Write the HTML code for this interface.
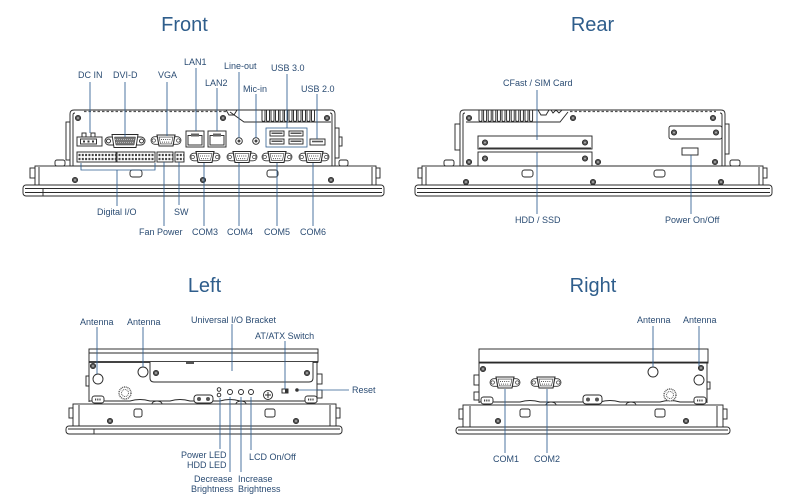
<!DOCTYPE html>
<html><head><meta charset="utf-8"><style>
html,body{margin:0;padding:0;background:#fff;}
svg{display:block;}
.t{font-family:"Liberation Sans",Arial,sans-serif;font-size:9px;fill:#2b4c73;}
.h{font-family:"Liberation Sans",Arial,sans-serif;font-size:20px;fill:#2f5e8c;}
.b{stroke:#2f5f90;stroke-width:0.85;fill:none;}
.d{stroke:#2a2a2a;stroke-width:0.95;fill:#fff;}
.n{stroke:#2a2a2a;stroke-width:0.95;fill:none;}
</style></head><body>
<svg width="785" height="502" viewBox="0 0 785 502" xmlns="http://www.w3.org/2000/svg">
<defs>
 <g id="scr"><circle r="2.7" fill="#555" stroke="#222" stroke-width="0.7"/><circle r="1" fill="#aaa"/></g>
 <g id="dsub">
  <rect x="-15" y="-3.8" width="30" height="7.6" rx="3.8" fill="#fff" stroke="#333" stroke-width="0.8"/>
  <circle cx="-12.3" cy="0" r="1.7" fill="#fff" stroke="#333" stroke-width="0.7"/>
  <circle cx="12.3" cy="0" r="1.7" fill="#fff" stroke="#333" stroke-width="0.7"/>
  <path d="M-9,-5.5 H9 L7,5.5 H-7 Z" fill="#fff" stroke="#2a2a2a" stroke-width="1.1"/>
  <path d="M-7,-3.4 H7 L5.4,3.4 H-5.4 Z" fill="#fff" stroke="#333" stroke-width="0.6"/>
  <line x1="-5" y1="-1" x2="5.5" y2="-1" stroke="#444" stroke-width="1" stroke-dasharray="0.9,1.2"/>
  <line x1="-4" y1="1.6" x2="4.5" y2="1.6" stroke="#444" stroke-width="1" stroke-dasharray="0.9,1.2"/>
 </g>
 <g id="gear"><circle r="6" fill="#fff" stroke="#555" stroke-width="1.4" stroke-dasharray="1,0.8"/><circle r="3.5" fill="none" stroke="#666" stroke-width="1" stroke-dasharray="1,0.8"/></g>
 <g id="tb"><line x1="1.5" y1="3" x2="200" y2="3" stroke="#444" stroke-width="2.2" stroke-dasharray="2,1.3"/><line x1="1.5" y1="7" x2="200" y2="7" stroke="#444" stroke-width="2.2" stroke-dasharray="2,1.3"/></g>
 <clipPath id="c1"><rect x="77" y="152" width="39" height="10"/></clipPath>
 <clipPath id="c2"><rect x="117" y="152" width="38" height="10"/></clipPath>
 <clipPath id="c3"><rect x="157" y="152" width="16" height="10"/></clipPath>
 <clipPath id="c4"><rect x="175" y="152" width="9" height="10"/></clipPath>
</defs>

<!-- ================= FRONT ================= -->
<text class="h" x="184.5" y="31" text-anchor="middle">Front</text>
<rect x="35" y="166" width="341" height="19" class="d"/>
<line x1="39" y1="167" x2="39" y2="185" class="n"/>
<line x1="372" y1="167" x2="372" y2="185" class="n"/>
<rect x="30" y="168" width="5" height="10" class="d"/>
<rect x="376" y="168" width="4" height="10" class="d"/>
<rect x="23" y="185" width="361" height="11" rx="3" class="d"/>
<line x1="25" y1="188.5" x2="382" y2="188.5" class="n"/>
<line x1="25" y1="192.5" x2="382" y2="192.5" class="n" stroke-width="0.6"/>
<line x1="43" y1="189" x2="43" y2="196" class="n" stroke-width="0.5"/>
<use href="#scr" x="75" y="180"/><use href="#scr" x="203" y="180"/><use href="#scr" x="331" y="180"/>
<rect x="130" y="170" width="12" height="7" rx="2.5" class="d"/>
<rect x="267" y="170" width="11" height="7" rx="2.5" class="d"/>
<rect x="55" y="160" width="10" height="6" rx="2" class="d"/>
<rect x="339" y="160" width="9" height="6" rx="2" class="d"/>
<rect x="66" y="122" width="4" height="38" class="d"/>
<rect x="335" y="128" width="4" height="30" class="d"/>
<rect x="339" y="137" width="3" height="9" class="d"/>
<path d="M70,166 V114 Q70,110 74,110 H331 Q335,110 335,114 V166 Z" class="d" stroke-width="1.3"/>
<path d="M73,166 V115 Q73,113 75,113" class="n" stroke-width="0.7"/>
<path d="M332,166 V115 Q332,113 330,113" class="n" stroke-width="0.7"/>
<line x1="84" y1="111.5" x2="226" y2="111.5" stroke="#555" stroke-width="1.3" stroke-dasharray="2.5,2"/>
<path d="M226,110 L229,115 H234 L237,110" class="n"/>
<path d="M230,112 L244,122 H331" class="n"/>
<path class="n" d="M262,110 V120 a1.5,1.5 0 0 0 3,0 V110 M266.5,110 V120 a1.5,1.5 0 0 0 3,0 V110 M271,110 V120 a1.5,1.5 0 0 0 3,0 V110 M275.5,110 V120 a1.5,1.5 0 0 0 3,0 V110 M280,110 V120 a1.5,1.5 0 0 0 3,0 V110 M284.5,110 V120 a1.5,1.5 0 0 0 3,0 V110 M289,110 V120 a1.5,1.5 0 0 0 3,0 V110 M293.5,110 V120 a1.5,1.5 0 0 0 3,0 V110 M298,110 V120 a1.5,1.5 0 0 0 3,0 V110 M302.5,110 V120 a1.5,1.5 0 0 0 3,0 V110 M307,110 V120 a1.5,1.5 0 0 0 3,0 V110 M311.5,110 V120 a1.5,1.5 0 0 0 3,0 V110"/>
<use href="#scr" x="78" y="118"/><use href="#scr" x="223" y="118"/><use href="#scr" x="327" y="118"/>
<rect x="82" y="133" width="4" height="4" class="d"/><rect x="91" y="133" width="4" height="4" class="d"/>
<rect x="77" y="137" width="25" height="9" class="d" stroke-width="1.1"/>
<rect x="80.5" y="139" width="16" height="5" class="d"/>
<rect x="83" y="140.5" width="2" height="2" fill="#333"/><rect x="87.5" y="140.5" width="2" height="2" fill="#333"/><rect x="92" y="140.5" width="2" height="2" fill="#333"/>
<rect x="105" y="137" width="40" height="8" rx="4" class="d"/>
<circle cx="108.5" cy="141" r="2" class="d"/><circle cx="141.5" cy="141" r="2" class="d"/>
<path d="M112,134.5 H138 L136,147.5 H114 Z" class="d" stroke-width="1.2"/>
<path d="M114.5,137 H135.5 L134,145 H116 Z" fill="#777" stroke="#333" stroke-width="0.5"/>
<line x1="115" y1="139.5" x2="135" y2="139.5" stroke="#fff" stroke-width="0.6" stroke-dasharray="1,1"/>
<line x1="116" y1="142.5" x2="134" y2="142.5" stroke="#fff" stroke-width="0.6" stroke-dasharray="1,1"/>
<use href="#dsub" x="166" y="140.5"/>
<rect x="186" y="131" width="18" height="16" class="d" stroke-width="1.2"/>
<rect x="188" y="135.5" width="14" height="9.5" class="d"/>
<rect x="191" y="133.5" width="8" height="3" fill="#666"/>
<rect x="208" y="131" width="18" height="16" class="d" stroke-width="1.2"/>
<rect x="210" y="135.5" width="14" height="9.5" class="d"/>
<rect x="213" y="133.5" width="8" height="3" fill="#666"/>
<circle cx="239" cy="141" r="3.3" class="d" stroke-width="1.2"/><circle cx="239" cy="141" r="1.5" fill="#444"/>
<circle cx="256" cy="141" r="3.3" class="d" stroke-width="1.2"/><circle cx="256" cy="141" r="1.5" fill="#444"/>
<rect x="266" y="128" width="41" height="19" fill="#fff" stroke="#2f5f90" stroke-width="0.8"/>
<rect x="270" y="131" width="14" height="5" class="d" stroke-width="1.1"/><rect x="271.5" y="132.5" width="11" height="1.5" fill="#555"/>
<rect x="289" y="131" width="14" height="5" class="d" stroke-width="1.1"/><rect x="290.5" y="132.5" width="11" height="1.5" fill="#555"/>
<rect x="270" y="139" width="14" height="5" class="d" stroke-width="1.1"/><rect x="271.5" y="140.5" width="11" height="1.5" fill="#555"/>
<rect x="289" y="139" width="14" height="5" class="d" stroke-width="1.1"/><rect x="290.5" y="140.5" width="11" height="1.5" fill="#555"/>
<rect x="310" y="139" width="15" height="6" class="d" stroke-width="1.1"/><rect x="312" y="140.7" width="11" height="1.6" fill="#555"/>
<rect x="77" y="152" width="39" height="10" class="d"/><g clip-path="url(#c1)"><use href="#tb" x="77" y="152"/></g>
<rect x="117" y="152" width="38" height="10" class="d"/><g clip-path="url(#c2)"><use href="#tb" x="117" y="152"/></g>
<rect x="157" y="152" width="16" height="10" class="d"/><g clip-path="url(#c3)"><use href="#tb" x="157" y="152"/></g>
<rect x="175" y="152" width="9" height="10" class="d"/><g clip-path="url(#c4)"><use href="#tb" x="175" y="152"/></g>
<use href="#dsub" x="205" y="157"/><use href="#dsub" x="242" y="157"/><use href="#dsub" x="277" y="157"/><use href="#dsub" x="314" y="157"/>
<path class="b" d="M90,82 V133 M125,82 V137 M167,82 V136 M196,68 V131 M217,88 V131 M239,72 V138 M256,94 V138 M287,74 V128 M317,94 V139"/>
<path class="b" d="M81,163 V170 H155 V163 M117,170 V206 M164,162 V226 M179,162 V205 M204,163 V226 M239,163 V226 M277,163 V226 M313,163 V226"/>
<text class="t" x="78" y="78">DC IN</text>
<text class="t" x="113" y="78">DVI-D</text>
<text class="t" x="158" y="78">VGA</text>
<text class="t" x="184" y="65">LAN1</text>
<text class="t" x="224" y="69">Line-out</text>
<text class="t" x="271" y="71">USB 3.0</text>
<text class="t" x="205" y="86">LAN2</text>
<text class="t" x="243" y="92">Mic-in</text>
<text class="t" x="301" y="92">USB 2.0</text>
<text class="t" x="97" y="215">Digital I/O</text>
<text class="t" x="174" y="215">SW</text>
<text class="t" x="139" y="235">Fan Power</text>
<text class="t" x="192" y="235">COM3</text>
<text class="t" x="227" y="235">COM4</text>
<text class="t" x="264" y="235">COM5</text>
<text class="t" x="300" y="235">COM6</text>

<!-- ================= REAR ================= -->
<text class="h" x="592.5" y="31" text-anchor="middle">Rear</text>
<rect x="422" y="166" width="341" height="19" class="d"/>
<line x1="426" y1="167" x2="426" y2="185" class="n"/>
<line x1="759" y1="167" x2="759" y2="185" class="n"/>
<rect x="418" y="168" width="4" height="10" class="d"/>
<rect x="763" y="168" width="4" height="10" class="d"/>
<rect x="415" y="185" width="357" height="11" rx="3" class="d"/>
<line x1="417" y1="188.5" x2="770" y2="188.5" class="n"/>
<line x1="417" y1="192.5" x2="770" y2="192.5" class="n" stroke-width="0.6"/>
<use href="#scr" x="466" y="182"/><use href="#scr" x="593" y="182"/><use href="#scr" x="721" y="182"/>
<rect x="522" y="170" width="11" height="7" rx="2.5" class="d"/>
<rect x="654" y="170" width="11" height="7" rx="2.5" class="d"/>
<rect x="444" y="160" width="10" height="6" rx="2" class="d"/>
<rect x="730" y="160" width="10" height="6" rx="2" class="d"/>
<rect x="455" y="124" width="5" height="26" class="d"/>
<rect x="725" y="124" width="4" height="30" class="d"/>
<path d="M460,166 V114 Q460,110 464,110 H721 Q725,110 725,114 V166 Z" class="d" stroke-width="1.3"/>
<path d="M463,166 V115 Q463,113 465,113" class="n" stroke-width="0.7"/>
<path d="M722,166 V115 Q722,113 720,113" class="n" stroke-width="0.7"/>
<path class="n" d="M479,110 V120 a1.5,1.5 0 0 0 3,0 V110 M483.6,110 V120 a1.5,1.5 0 0 0 3,0 V110 M488.2,110 V120 a1.5,1.5 0 0 0 3,0 V110 M492.8,110 V120 a1.5,1.5 0 0 0 3,0 V110 M497.4,110 V120 a1.5,1.5 0 0 0 3,0 V110 M502,110 V120 a1.5,1.5 0 0 0 3,0 V110 M506.6,110 V120 a1.5,1.5 0 0 0 3,0 V110 M511.2,110 V120 a1.5,1.5 0 0 0 3,0 V110 M515.8,110 V120 a1.5,1.5 0 0 0 3,0 V110 M520.4,110 V120 a1.5,1.5 0 0 0 3,0 V110 M525,110 V120 a1.5,1.5 0 0 0 3,0 V110 M529.6,110 V120 a1.5,1.5 0 0 0 3,0 V110"/>
<path d="M466,122 H560 L568,112" class="n"/>
<path d="M538,110 L541,115 H546 L549,110 M551,110 L553,113 L556,110 L559,113 L562,110" class="n"/>
<line x1="570" y1="111.5" x2="716" y2="111.5" stroke="#555" stroke-width="1.3" stroke-dasharray="2.5,2"/>
<rect x="478" y="136" width="114" height="13" class="d" stroke-width="1.8"/>
<line x1="479" y1="148" x2="591" y2="148" stroke="#333" stroke-width="1"/>
<rect x="478" y="152" width="114" height="14" class="d" stroke-width="1.8"/>
<use href="#scr" x="485" y="142.5"/><use href="#scr" x="585" y="142.5"/>
<use href="#scr" x="485" y="158.5"/><use href="#scr" x="585" y="158.5"/>
<use href="#scr" x="469" y="118"/><use href="#scr" x="573" y="118"/><use href="#scr" x="713" y="118"/>
<use href="#scr" x="469" y="162"/><use href="#scr" x="598" y="162"/><use href="#scr" x="715" y="162"/>
<rect x="669" y="126" width="53" height="13" rx="2" class="d" stroke-width="1.7"/>
<use href="#scr" x="674" y="132.5"/><use href="#scr" x="716" y="132.5"/>
<rect x="682" y="148" width="16" height="7" class="d" stroke-width="1.3"/>
<path class="b" d="M537,90 V140 M537,152 V214 M691,155 V214"/>
<text class="t" x="503" y="86">CFast / SIM Card</text>
<text class="t" x="515" y="223">HDD / SSD</text>
<text class="t" x="665" y="223">Power On/Off</text>

<!-- ================= LEFT ================= -->
<text class="h" x="204.5" y="292" text-anchor="middle">Left</text>
<rect x="73" y="404" width="263" height="22" class="d"/>
<line x1="79" y1="405" x2="79" y2="426" class="n"/>
<line x1="330" y1="405" x2="330" y2="426" class="n"/>
<rect x="69" y="408" width="4" height="10" class="d"/>
<rect x="336" y="408" width="4" height="10" class="d"/>
<rect x="66" y="426" width="276" height="8" rx="3" class="d"/>
<line x1="68" y1="429" x2="340" y2="429" class="n" stroke-width="0.6"/>
<line x1="94" y1="429" x2="94" y2="434" class="n" stroke-width="0.5"/>
<use href="#scr" x="110" y="421"/><use href="#scr" x="296" y="421"/>
<rect x="134" y="409" width="8" height="8" rx="2" class="d"/>
<rect x="265" y="409" width="10" height="8" rx="2" class="d"/>
<rect x="89" y="349" width="229" height="13" class="d"/>
<line x1="89" y1="353" x2="318" y2="353" class="n" stroke-width="0.6"/>
<line x1="89" y1="362" x2="318" y2="362" stroke="#2a2a2a" stroke-width="1.8"/>
<path d="M89,362 V402 M317,362 V402" class="n"/>
<path d="M89,401 H130 Q140,398 150,401 H170 Q180,398 190,401 H220 Q230,398 240,401 H317" class="n"/>
<rect x="86" y="376" width="3" height="10" class="d"/>
<rect x="317" y="374" width="5" height="10" class="d"/><rect x="317" y="390" width="5" height="8" class="d"/>
<rect x="92" y="396" width="12" height="7" rx="2.5" class="d"/><line x1="95" y1="399.5" x2="101" y2="399.5" stroke="#444" stroke-width="2" stroke-dasharray="1,0.8"/>
<rect x="194" y="395" width="19" height="8" rx="3" class="d"/><circle cx="199" cy="399" r="2" fill="#555"/><circle cx="208" cy="399" r="2" fill="#555"/>
<rect x="305" y="396" width="12" height="7" rx="2.5" class="d"/><line x1="308" y1="399.5" x2="314" y2="399.5" stroke="#444" stroke-width="2" stroke-dasharray="1,0.8"/>
<path d="M152,404 a5,3 0 0 1 10,0" class="n"/><path d="M236,404 a5,3 0 0 1 10,0" class="n"/>
<path d="M150,362 V378 Q150,382 154,382 H309 Q313,382 313,378 V362" class="d" stroke-width="1.4"/>
<rect x="186" y="362" width="8" height="2" fill="#555"/>
<use href="#scr" x="156" y="373"/><use href="#scr" x="307" y="373"/>
<use href="#scr" x="93" y="366"/>
<circle cx="98" cy="379" r="5" class="d" stroke-width="1.1"/>
<circle cx="143" cy="372" r="5" class="d" stroke-width="1.1"/>
<use href="#gear" x="125" y="393"/>
<circle cx="219" cy="389.5" r="1.8" class="d"/><circle cx="219" cy="395" r="1.8" class="d"/>
<circle cx="230" cy="392" r="2.5" class="d" stroke-width="1.1"/><circle cx="241" cy="392" r="2.5" class="d" stroke-width="1.1"/><circle cx="251" cy="392" r="2.5" class="d" stroke-width="1.1"/>
<circle cx="268" cy="395" r="4.5" class="d" stroke-width="1.3"/><path d="M265,395 H271 M268,392 V398" class="n"/>
<rect x="282" y="389" width="6" height="4" class="d"/><rect x="285" y="389.5" width="2.5" height="3" fill="#333"/>
<circle cx="297" cy="390" r="1.8" fill="#333"/>
<path class="b" d="M97,327 V374 M143,327 V367 M232,324 V371 M285,341 V389 M299,390 H349 M220,398 V449 M230,397 V472 M241,397 V472 M251,397 V450"/>
<text class="t" x="80" y="325">Antenna</text>
<text class="t" x="127" y="325">Antenna</text>
<text class="t" x="191" y="323">Universal I/O Bracket</text>
<text class="t" x="255" y="339">AT/ATX Switch</text>
<text class="t" x="352" y="393">Reset</text>
<text class="t" x="181" y="458">Power LED</text>
<text class="t" x="187" y="468">HDD LED</text>
<text class="t" x="249" y="460">LCD On/Off</text>
<text class="t" x="194" y="482">Decrease</text>
<text class="t" x="191" y="492">Brightness</text>
<text class="t" x="238" y="482">Increase</text>
<text class="t" x="238" y="492">Brightness</text>

<!-- ================= RIGHT ================= -->
<text class="h" x="593" y="292" text-anchor="middle">Right</text>
<rect x="463" y="405" width="260" height="22" class="d"/>
<line x1="470" y1="406" x2="470" y2="427" class="n"/>
<line x1="717" y1="406" x2="717" y2="427" class="n"/>
<rect x="459" y="409" width="4" height="10" class="d"/>
<rect x="723" y="409" width="4" height="10" class="d"/>
<rect x="456" y="427" width="274" height="7" rx="3" class="d"/>
<line x1="458" y1="430" x2="728" y2="430" class="n" stroke-width="0.6"/>
<use href="#scr" x="498" y="421"/><use href="#scr" x="686" y="421"/>
<rect x="520" y="409" width="10" height="8" rx="2" class="d"/>
<rect x="655" y="409" width="10" height="8" rx="2" class="d"/>
<rect x="479" y="349" width="229" height="14" class="d"/>
<line x1="479" y1="362.5" x2="708" y2="362.5" stroke="#2a2a2a" stroke-width="1.8"/>
<path d="M479,363 V403 M707,363 V403" class="n"/>
<path d="M479,402 H520 Q530,399 540,402 H600 Q610,399 620,402 H660 Q670,399 680,402 H707" class="n"/>
<rect x="474" y="375" width="5" height="10" class="d"/><rect x="474" y="392" width="5" height="8" class="d"/>
<rect x="707" y="382" width="3" height="7" class="d"/>
<rect x="481" y="397" width="12" height="7" rx="2.5" class="d"/><line x1="484" y1="400.5" x2="490" y2="400.5" stroke="#444" stroke-width="2" stroke-dasharray="1,0.8"/>
<rect x="583" y="395" width="19" height="9" rx="3" class="d"/><circle cx="588" cy="399.5" r="2" fill="#555"/><circle cx="597" cy="399.5" r="2" fill="#555"/>
<rect x="694" y="397" width="12" height="7" rx="2.5" class="d"/><line x1="697" y1="400.5" x2="703" y2="400.5" stroke="#444" stroke-width="2" stroke-dasharray="1,0.8"/>
<path d="M546,405 a5,3 0 0 1 10,0" class="n"/><path d="M626,405 a5,3 0 0 1 10,0" class="n"/>
<use href="#scr" x="483" y="369"/>
<use href="#dsub" x="505" y="382.5"/><use href="#dsub" x="546" y="382.5"/>
<circle cx="653" cy="372" r="5" class="d" stroke-width="1.1"/>
<use href="#scr" x="701" y="368"/>
<circle cx="699" cy="380" r="5" class="d" stroke-width="1.1"/>
<use href="#gear" x="670" y="395"/>
<path class="b" d="M653,326 V367 M699,326 V366 M505,389 V453 M547,389 V453"/>
<text class="t" x="637" y="323">Antenna</text>
<text class="t" x="683" y="323">Antenna</text>
<text class="t" x="493" y="462">COM1</text>
<text class="t" x="534" y="462">COM2</text>
</svg>
</body></html>
